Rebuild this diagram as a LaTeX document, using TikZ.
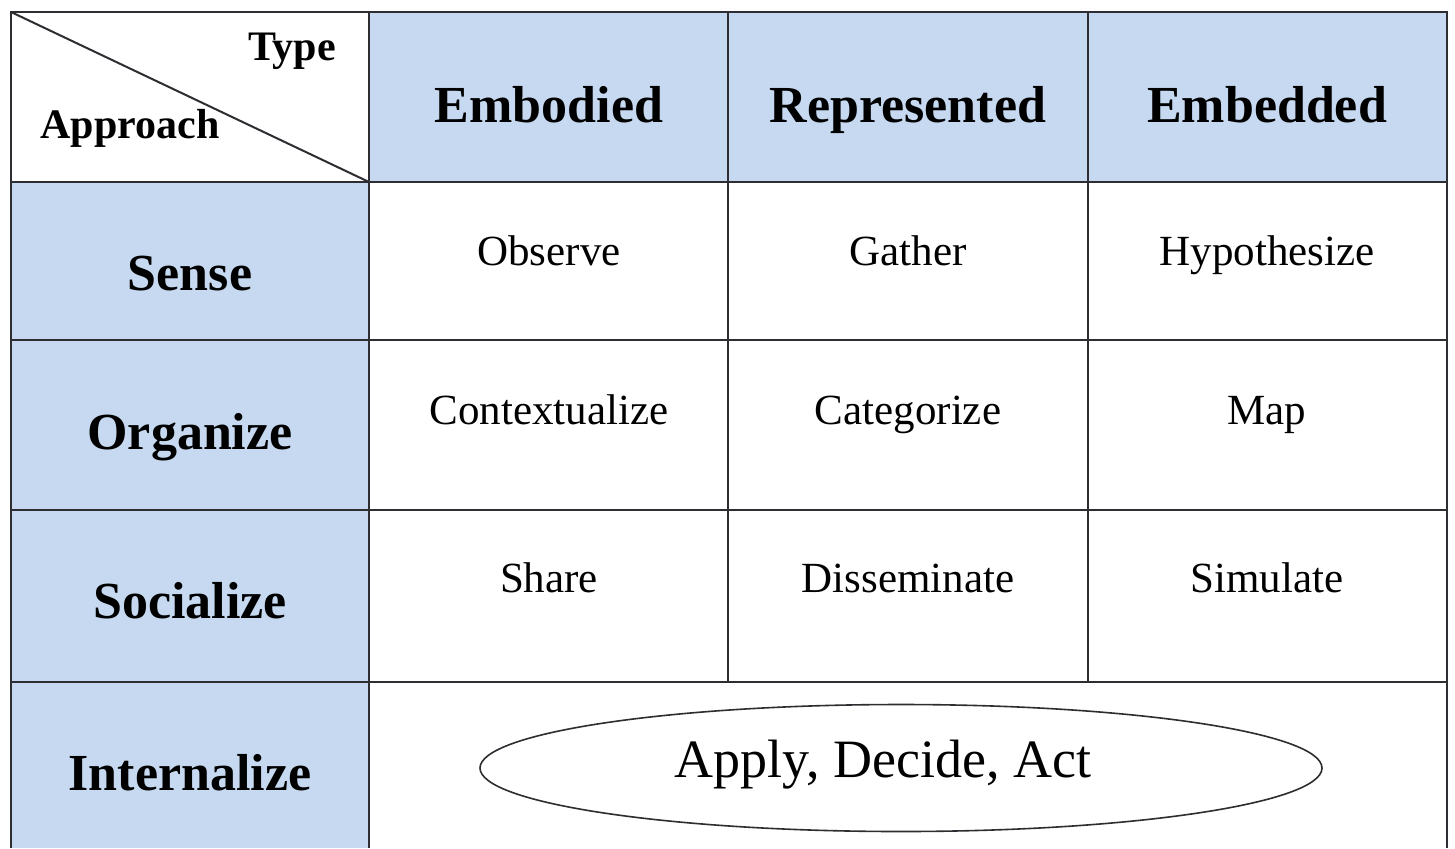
\documentclass[tikz,border=0pt]{standalone}
\usepackage{fontspec}
\setmainfont{Liberation Serif}
\usetikzlibrary{shapes.geometric}
\definecolor{headblue}{RGB}{198,217,240}
\definecolor{rulegray}{RGB}{45,45,50}
\tikzset{
  tabline/.style={draw=rulegray, line width=1pt},
  colhead/.style={anchor=base, inner sep=0pt, font=\fontsize{26}{30}\selectfont\bfseries},
  rowhead/.style={colhead},
  corner/.style={anchor=base, inner sep=0pt, font=\fontsize{21}{25}\selectfont\bfseries},
  cell/.style={anchor=base, inner sep=0pt, font=\fontsize{21.5}{26}\selectfont},
  oval/.style={ellipse, draw=rulegray, line width=0.8pt, inner sep=0pt,
    minimum width=421pt, minimum height=63.5pt},
  actlabel/.style={anchor=base, inner sep=0pt, font=\fontsize{27}{32}\selectfont}
}
\begin{document}
\begin{tikzpicture}[x=0.5pt, y=-0.5pt]
    \useasboundingbox (0,0) rectangle (1455,848);
    \fill[white] (0,0) rectangle (1455,848);
    % shaded header row and first column
    \fill[headblue] (369,12) rectangle (1447,182);
    \fill[headblue] (11,182) rectangle (369,848);
    % rules
    \draw[tabline] (11,848) -- (11,12) -- (1447,12) -- (1447,848);
    \foreach \y in {182,340,510,682}
        \draw[tabline] (11,\y) -- (1447,\y);
    \foreach \x in {728,1088}
        \draw[tabline] (\x,12) -- (\x,682);
    \draw[tabline] (369,12) -- (369,848);
    \draw[tabline] (11,12) -- (369,182);
    % corner
    \node[corner] (type) at (292,60) {Type};
    \node[corner] (approach) at (130,138) {Approach};
    % column heads
    \node[colhead] (embodied) at (549,122) {Embodied};
    \node[colhead] (represented) at (908,122) {Represented};
    \node[colhead] (embedded) at (1267,122) {Embedded};
    % row heads
    \node[rowhead] (sense) at (190,290) {Sense};
    \node[rowhead] (organize) at (190,449) {Organize};
    \node[rowhead] (socialize) at (190,618) {Socialize};
    \node[rowhead] (internalize) at (190,790) {Internalize};
    % cells
    \node[cell] (observe) at (549,265) {Observe};
    \node[cell] (gather) at (908,265) {Gather};
    \node[cell] (hypothesize) at (1267,265) {Hypothesize};
    \node[cell] (contextualize) at (549,424) {Contextualize};
    \node[cell] (categorize) at (908,424) {Categorize};
    \node[cell] (map) at (1267,424) {Map};
    \node[cell] (share) at (549,592) {Share};
    \node[cell] (disseminate) at (908,592) {Disseminate};
    \node[cell] (simulate) at (1267,592) {Simulate};
    % last row
    \node[oval] (actoval) at (901,768) {};
    \node[actlabel] (act) at (883,777) {Apply, Decide, Act};
\end{tikzpicture}
\end{document}
